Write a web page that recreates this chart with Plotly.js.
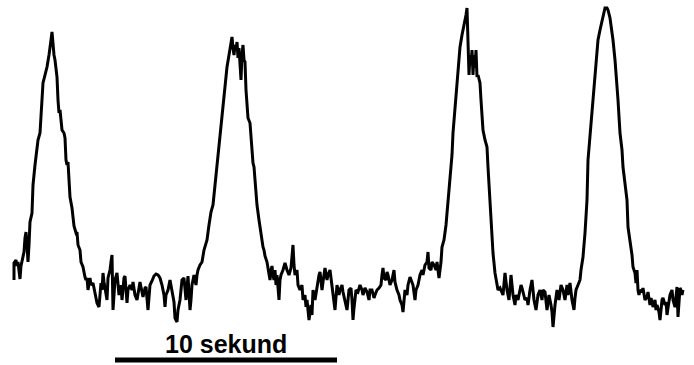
<!DOCTYPE html>
<html>
<head>
<meta charset="utf-8">
<script src="https://cdn.plot.ly/plotly-3.0.1.min.js"></script>
<style>html,body{margin:0;padding:0;background:#fff;}#chart{width:694px;height:365px;}</style>
</head>
<body>
<div id="chart"></div>
<script>
// Recording samples (22.2 samples per second) and signal amplitude (a.u., baseline ~0)
const SAMPLES_PER_SECOND = 22.2;
const sampleIndex = [
14,14,16,17,18,19,20,21,22,23,24,25,26,27,28,29,30,
32,33,35,37,38,40,42,43,45,47,49,50,51,52,53,54,55,56,57,58,59,60,61,62,64,65,66,67,68,69,70,72,73,74,76,77,78,80,81,83,85,86,87,88,
90,91,93,95,97,99,100,101,102,103,104,106,107,108,110,111,112,113,114,115,117,118,119,121,122,124,125,127,128,130,132,133,135,137,139,140,142,143,145,146,148,149,150,152,154,156,158,160,162,164,165,166,168,170,171,173,174,175,177,178,180,181,182,184,185,186,188,189,190,191,192,194,196,197,198,200,
202,204,207,209,211,213,215,217,219,220,222,223,225,226,227,229,230,232,233,234,235,236,237,238,239,240,241,242,243,244,245,246,247,248,250,251,253,254,256,257,259,260,261,262,263,264,265,267,268,269,270,
271,272,273,274,275,276,277,279,280,281,283,285,287,289,291,293,294,295,297,298,300,302,303,305,306,307,309,310,311,312,313,315,317,319,320,322,323,325,327,328,330,332,334,335,337,339,340,342,343,345,347,349,351,352,353,354,356,358,360,362,363,365,367,369,370,372,374,375,377,379,381,382,383,384,386,387,388,390,392,394,395,397,399,400,402,403,404,405,407,408,410,412,413,415,416,418,419,420,422,423,425,427,428,429,431,432,434,436,437,439,440,441,
442,444,446,447,449,450,452,453,455,457,459,460,462,463,465,466,467,468,469,470,471,472,473,474,475,476,477,478,480,481,482,483,485,487,488,489,490,492,493,495,496,498,
500,502,503,505,506,507,509,510,511,513,515,516,518,520,521,522,524,525,527,528,530,532,533,534,536,537,538,540,542,543,545,547,549,551,552,553,554,555,557,559,561,563,565,567,568,570,572,574,575,576,578,580,
581,583,585,587,588,590,592,593,595,597,598,600,602,604,605,607,608,610,612,613,615,617,618,620,622,623,625,627,628,630,632,633,635,636,637,638,
639,640,642,643,645,647,648,650,651,652,653,655,656,657,659,660,661,662,663,665,666,667,668,669,670,672,673,675,676,677,678,679,680,681,682,683
];
const signal = [
20,37,40,34,38,30,21,34,38,42,48,62,68,55,38,55,78,
87,115,135,157,160,167,195,217,225,233,245,257,260,268,252,245,240,228,223,200,187,190,175,170,167,162,140,135,138,120,103,92,80,74,67,68,55,50,38,33,23,20,22,10,
22,15,17,5,-3,-7,10,17,10,27,18,5,0,22,30,38,45,-10,10,20,27,15,5,15,0,22,24,-3,10,15,10,18,5,0,10,18,8,3,12,13,-10,5,15,19,24,26,25,22,15,5,-7,5,10,20,15,5,-2,-18,-22,-10,0,10,20,22,10,0,24,5,-10,0,15,25,15,25,30,35,
38,50,60,75,88,95,115,133,157,167,185,200,215,228,233,245,253,263,252,245,255,250,258,242,252,238,220,245,255,240,238,210,190,182,177,160,137,133,102,95,80,73,65,60,53,50,44,38,32,25,20,
30,34,25,20,30,15,25,0,20,25,30,37,30,25,32,55,35,25,30,15,10,15,0,5,-7,0,-20,-12,-5,-15,10,0,15,25,28,10,18,32,20,25,30,15,0,-10,15,5,10,15,8,0,-10,10,12,0,-20,-8,10,8,15,10,5,12,8,0,10,10,2,5,10,12,15,25,32,22,20,28,25,15,20,30,18,10,5,0,-5,-12,5,10,5,15,23,18,15,0,10,15,22,25,30,25,35,38,48,32,30,38,35,30,38,22,30,38,
53,60,75,87,105,120,145,167,190,217,240,253,265,270,277,285,292,260,225,245,235,250,225,245,232,250,223,225,217,200,185,170,160,153,133,115,93,70,47,27,20,10,
12,8,5,27,15,10,0,15,25,5,-5,5,0,10,15,12,5,0,2,-5,10,20,10,0,-10,0,5,10,0,10,8,-10,5,-5,-12,-27,-12,-5,10,0,15,10,0,15,5,17,0,-10,2,10,15,20,
30,43,67,100,140,165,183,200,227,245,260,270,280,288,292,292,290,282,270,260,240,217,200,167,150,133,115,100,73,60,45,33,27,17,30,10,
5,10,8,12,0,3,8,-5,2,-2,-7,0,-10,-5,-12,-20,-10,0,2,-5,-2,-15,-8,0,5,10,0,-7,5,13,-17,0,12,10,5,10
];
// Scale bar
const scaleBarSeconds = 10;
const scaleBarStart = 115;
const scaleBarLabel = "10 sekund";

const trace = {
  x: sampleIndex,
  y: signal,
  type: 'scatter',
  mode: 'lines',
  line: {color: '#000', width: 3},
  hoverinfo: 'skip'
};

const barEnd = scaleBarStart + scaleBarSeconds * SAMPLES_PER_SECOND;

const layout = {
  width: 694, height: 365,
  margin: {l: 0, r: 0, t: 0, b: 0},
  paper_bgcolor: '#fff', plot_bgcolor: '#fff',
  showlegend: false,
  xaxis: {range: [0, 694], visible: false, fixedrange: true},
  yaxis: {range: [-65, 300], visible: false, fixedrange: true},
  shapes: [{
    type: 'line', xref: 'x', yref: 'y',
    x0: scaleBarStart, x1: barEnd, y0: -60, y1: -60,
    line: {color: '#000', width: 5}
  }],
  annotations: [{
    x: (scaleBarStart + barEnd) / 2, y: -44, xref: 'x', yref: 'y',
    text: '<b>' + scaleBarLabel + '</b>', showarrow: false,
    xanchor: 'center', yanchor: 'middle',
    font: {family: 'Liberation Sans, Arial, sans-serif', size: 25, color: '#000'}
  }]
};

Plotly.newPlot('chart', [trace], layout, {staticPlot: true, displayModeBar: false});
</script>
</body>
</html>
